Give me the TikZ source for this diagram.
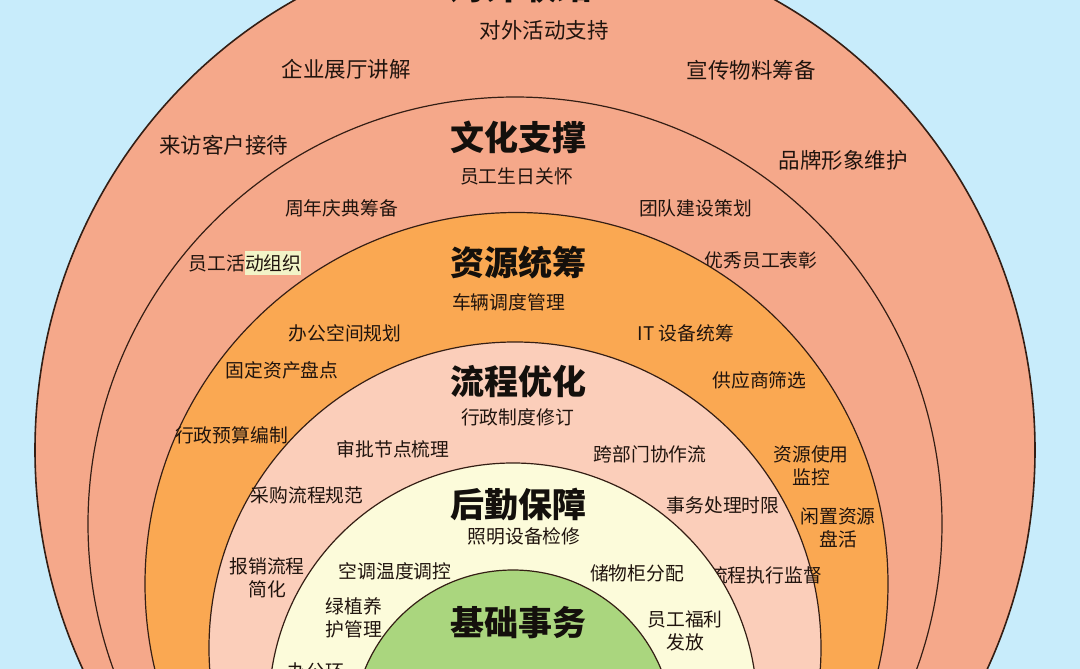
\documentclass[tikz,border=0pt]{standalone}
\usepackage{fontspec}
\newfontfamily\cjk{Noto Sans CJK SC}
\definecolor{bg}{RGB}{200,236,251}
\definecolor{salmon}{RGB}{245,168,138}
\definecolor{orng}{RGB}{250,168,82}
\definecolor{pinkl}{RGB}{251,206,186}
\definecolor{yell}{RGB}{252,251,218}
\definecolor{grn}{RGB}{170,214,126}
\definecolor{edge}{RGB}{52,30,20}
\definecolor{txt}{RGB}{32,20,14}
\definecolor{ttlc}{RGB}{20,16,12}
\definecolor{glow}{RGB}{242,244,200}
\tikzset{
  ring/.style={draw=edge, line width=1.2pt},
  lbl/.style={font=\cjk\fontsize{18.8}{23.5}\selectfont, text=txt, inner sep=0pt, align=center},
  olbl/.style={font=\cjk\fontsize{21.5}{26}\selectfont, text=txt, inner sep=0pt, align=center},
  ttl/.style={font=\cjk\bfseries\fontsize{34}{40}\selectfont, text=ttlc, inner sep=0pt}
}
\begin{document}
\begin{tikzpicture}[x=1pt,y=-1pt]
\useasboundingbox (0,0) rectangle (1080,669);
\clip (0,0) rectangle (1080,669);
\fill[bg] (0,0) rectangle (1080,669);
% ring 1
\filldraw[ring, fill=salmon, line width=1.6pt] (535,450) ellipse [x radius=500pt, y radius=513pt];
\node[ttl, font=\cjk\bfseries\fontsize{36}{40}\selectfont] (t1) at (521,-14) {对外联络};
\node[olbl] (a1) at (544,30) {对外活动支持};
\node[olbl] (a2) at (346,69) {企业展厅讲解};
\node[olbl] (a3) at (751,70) {宣传物料筹备};
\node[olbl] (a4) at (223.5,145) {来访客户接待};
\node[olbl] (a5) at (843,160) {品牌形象维护};
% ring 2
\filldraw[ring, fill=salmon] (515,524) circle [radius=427pt];
\node[ttl] (t2) at (518.5,137.5) {文化支撑};
\node[lbl] (b1) at (516.5,176) {员工生日关怀};
\node[lbl] (b2) at (341.5,208) {周年庆典筹备};
\node[lbl] (b3) at (695.5,208) {团队建设策划};
\node[lbl] (b4) at (245,263) {员工活\colorbox{glow}{\kern-3pt动组织\kern-3pt}};
\node[lbl] (b5) at (761,260) {优秀员工表彰};
% ring 3
\filldraw[ring, fill=orng] (516.5,584) circle [radius=371.5pt];
\node[ttl] (t3) at (518.5,262.5) {资源统筹};
\node[lbl] (c1) at (508.5,302) {车辆调度管理};
\node[lbl] (c2) at (345,333) {办公空间规划};
\node[lbl] (c3) at (686,333) {IT 设备统筹};
\node[lbl] (c4) at (282,370) {固定资产盘点};
\node[lbl] (c5) at (759.5,380) {供应商筛选};
\node[lbl] (c6) at (231.5,435) {行政预算编制};
\node[lbl] (c7) at (811,466) {资源使用\\监控};
\node[lbl] (c8) at (838,528) {闲置资源\\盘活};
% ring 4
\filldraw[ring, fill=pinkl] (515,648) circle [radius=306pt];
\node[ttl] (t4) at (518,382) {流程优化};
\node[lbl] (d1) at (517.5,417.5) {行政制度修订};
\node[lbl] (d2) at (393,449.5) {审批节点梳理};
\node[lbl] (d3) at (650,454.5) {跨部门协作流};
\node[lbl] (d4) at (307,495) {采购流程规范};
\node[lbl] (d5) at (723,505.5) {事务处理时限};
\node[lbl] (d6) at (267,578) {报销流程\\简化};
\node[lbl] (d7) at (765.5,575) {流程执行监督};
% ring 5
\filldraw[ring, fill=yell] (513,707) circle [radius=244pt];
\node[ttl] (t5) at (518.7,504) {后勤保障};
\node[lbl] (e1) at (524,536) {照明设备检修};
\node[lbl] (e2) at (395,571.5) {空调温度调控};
\node[lbl] (e3) at (637,573.5) {储物柜分配};
\node[lbl] (e4) at (354,618) {绿植养\\护管理};
\node[lbl] (e5) at (685,631) {员工福利\\发放};
\node[lbl] (e6) at (316,671) {办公环};
% core
\filldraw[ring, fill=grn] (513,730) circle [radius=160pt];
\node[ttl] (t6) at (518,622.5) {基础事务};
\end{tikzpicture}
\end{document}
